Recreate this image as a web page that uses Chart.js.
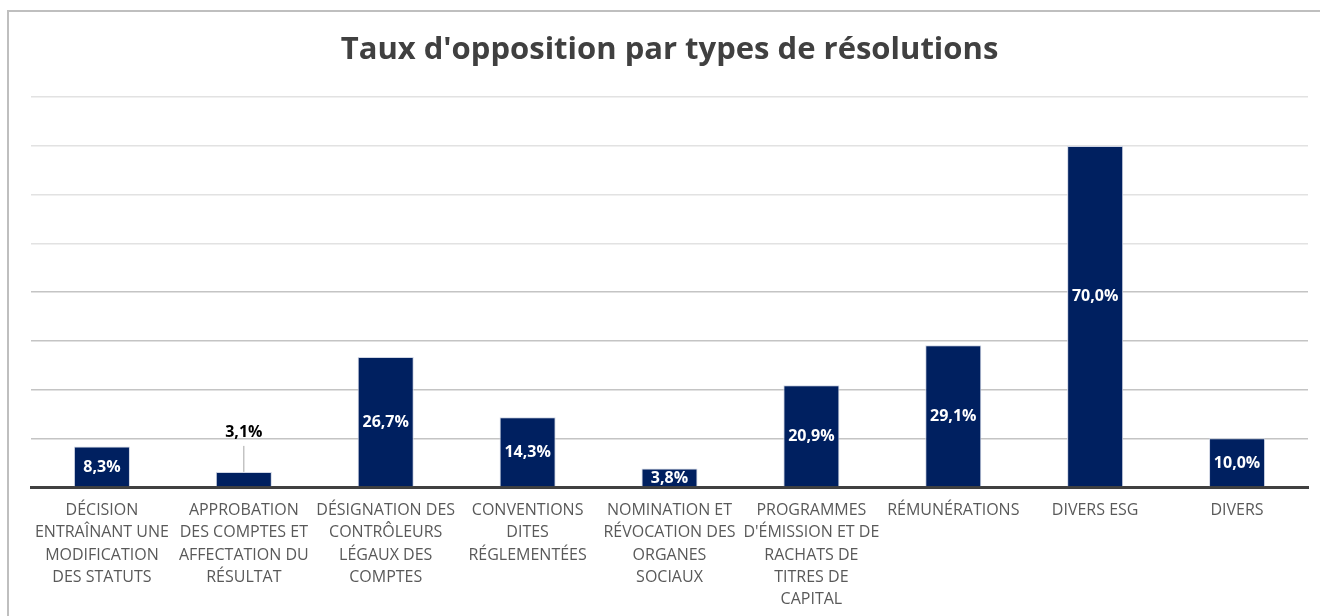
<!DOCTYPE html>
<html lang="fr">
<head>
<meta charset="utf-8">
<title>Taux d'opposition par types de résolutions</title>
<script src="https://cdn.jsdelivr.net/npm/chart.js@4/dist/chart.umd.min.js"></script>
<style>
  html, body { margin: 0; padding: 0; background: #ffffff; overflow: hidden; }
  .frame {
    position: absolute; left: 7px; top: 10px; width: 1330px; height: 640px;
    border: 2px solid #bfbfbf; box-sizing: border-box;
  }
  #chart { position: absolute; left: 0; top: 0; }
</style>
</head>
<body>
<div class="frame"></div>
<canvas id="chart" width="1320" height="616"></canvas>
<script>
const categories = [
  ["DÉCISION", "ENTRAÎNANT UNE", "MODIFICATION", "DES STATUTS"],
  ["APPROBATION", "DES COMPTES ET", "AFFECTATION DU", "RÉSULTAT"],
  ["DÉSIGNATION DES", "CONTRÔLEURS", "LÉGAUX DES", "COMPTES"],
  ["CONVENTIONS", "DITES", "RÉGLEMENTÉES"],
  ["NOMINATION ET", "RÉVOCATION DES", "ORGANES", "SOCIAUX"],
  ["PROGRAMMES", "D'ÉMISSION ET DE", "RACHATS DE", "TITRES DE", "CAPITAL"],
  ["RÉMUNÉRATIONS"],
  ["DIVERS ESG"],
  ["DIVERS"]
]
const oppositionRates = [8.3, 3.1, 26.7, 14.3, 3.8, 20.9, 29.1, 70.0, 10.0]
const yTicks = [0, 10, 20, 30, 40, 50, 60, 70, 80]

const narrow = "'Liberation Sans Narrow', 'Arial Narrow', 'Open Sans', sans-serif"

function formatRate(v) {
  return v.toFixed(1).replace(".", ",") + "%"
}

// value labels drawn in the middle of each bar, outside with a leader line when the bar is too short
const barLabels = {
  id: "barLabels",
  afterDatasetsDraw(chart, args, opts) {
    const ctx = chart.ctx
    const meta = chart.getDatasetMeta(0)
    meta.data.forEach((bar, i) => {
      const text = formatRate(oppositionRates[i])
      const h = bar.base - bar.y
      ctx.save()
      ctx.font = "bold 16px " + narrow
      ctx.textAlign = "center"
      ctx.textBaseline = "middle"
      if (h < 16) {
        const ty = bar.y - 39
        ctx.strokeStyle = "#a6a6a6"
        ctx.lineWidth = 1
        ctx.beginPath()
        ctx.moveTo(bar.x, ty + 13)
        ctx.lineTo(bar.x, bar.y)
        ctx.stroke()
        ctx.fillStyle = "#000000"
        ctx.fillText(text, bar.x, ty)
      } else {
        const shift = (opts.nudge && opts.nudge[i]) || 0
        ctx.fillStyle = "#ffffff"
        ctx.fillText(text, bar.x, bar.y + h / 2 + 1 + shift)
      }
      ctx.restore()
    })
  }
}

new Chart(document.getElementById("chart"), {
  type: "bar",
  data: {
    labels: categories,
    datasets: [
      {
        label: "Taux d'opposition",
        data: oppositionRates,
        backgroundColor: "#002060",
        borderColor: "#d0d6e4",
        borderWidth: 1,
        barPercentage: 1,
        categoryPercentage: 0.395,
      },
    ],
  },
  options: {
    responsive: false,
    animation: false,
    layout: {
      padding: { left: 31, right: 12, top: 0, bottom: 0 },
    },
    plugins: {
      legend: { display: false },
      tooltip: { enabled: false },
      title: {
        display: true,
        text: "Taux d'opposition par types de résolutions",
        color: "#404040",
        font: { family: "'Open Sans', sans-serif", size: 31, weight: "bold" },
        padding: { top: 32, bottom: 28 },
      },
      barLabels: { nudge: { 7: -21 } },
    },
    scales: {
      y: {
        min: 0,
        max: 80,
        afterBuildTicks: (scale) => {
          scale.ticks = yTicks.map((v) => ({ value: v }))
        },
        afterFit: (scale) => {
          scale.width = 0
        },
        ticks: { display: false },
        border: { display: false },
        grid: {
          drawTicks: false,
          lineWidth: 1.5,
          color: (c) => (c.tick && c.tick.value >= 50 ? "#e2e2e2" : "#c4c4c4"),
        },
      },
      x: {
        afterFit: (scale) => {
          scale.height = 129
        },
        border: { display: true, color: "#404040", width: 3 },
        grid: { display: false, drawTicks: false },
        ticks: {
          autoSkip: false,
          maxRotation: 0,
          minRotation: 0,
          padding: 12,
          color: "#595959",
          font: { family: narrow, size: 16, lineHeight: 1.4 },
        },
      },
    },
  },
  plugins: [barLabels],
})
</script>
</body>
</html>
